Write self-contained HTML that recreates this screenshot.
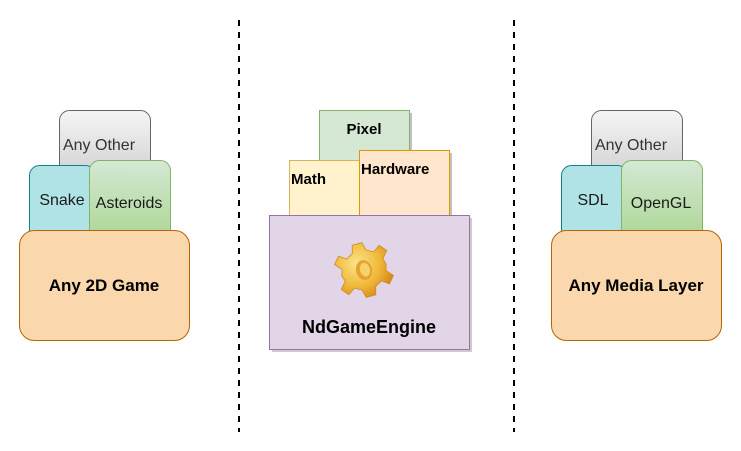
<!DOCTYPE html>
<html><head><meta charset="utf-8"><style>
html,body{margin:0;padding:0;background:#fff;}
svg{display:block;}
text{font-family:"Liberation Sans",Arial,sans-serif;}
</style></head><body>
<svg width="741" height="451" viewBox="0 0 741 451" xmlns="http://www.w3.org/2000/svg">
<defs>
<linearGradient id="gGray" x1="0" y1="0" x2="0" y2="1"><stop offset="0" stop-color="#f5f5f5"/><stop offset="1" stop-color="#cfcfcf"/></linearGradient>
<linearGradient id="gGreen" x1="0" y1="0" x2="0" y2="1"><stop offset="0" stop-color="#d5e8d4"/><stop offset="1" stop-color="#a9d58f"/></linearGradient>
<radialGradient id="gear" cx="0.4" cy="0.35" r="0.7"><stop offset="0" stop-color="#fbe48a"/><stop offset="0.6" stop-color="#f0b93a"/><stop offset="1" stop-color="#d88a1a"/></radialGradient>
</defs>
<line x1="239" y1="20" x2="239" y2="432" stroke="#000" stroke-width="2" stroke-dasharray="6,6"/>
<line x1="514" y1="20" x2="514" y2="432" stroke="#000" stroke-width="2" stroke-dasharray="6,6"/>

<!-- left -->
<rect x="59.5" y="110.5" width="91" height="70" rx="10" fill="url(#gGray)" stroke="#666"/>
<text x="99" y="150" font-size="16" text-anchor="middle" fill="#333">Any Other</text>
<rect x="29.5" y="165.5" width="66" height="80" rx="10" fill="#b0e3e6" stroke="#0e8088"/>
<text x="62" y="205" font-size="16" text-anchor="middle" fill="#1a1a1a">Snake</text>
<rect x="89.5" y="160.5" width="81" height="85" rx="10" fill="url(#gGreen)" stroke="#82b366"/>
<text x="129" y="208" font-size="16" text-anchor="middle" fill="#1a1a1a">Asteroids</text>
<rect x="19.5" y="230.5" width="170" height="110" rx="15" fill="#fad7ac" stroke="#b46504"/>
<text x="104" y="291" font-size="17" font-weight="bold" text-anchor="middle" fill="#000">Any 2D Game</text>

<!-- middle -->
<rect x="322" y="113" width="90" height="50" fill="#999" opacity="0.6"/>
<rect x="319.5" y="110.5" width="90" height="50" fill="#d5e8d4" stroke="#82b366"/>
<text x="364" y="134" font-size="15" font-weight="bold" text-anchor="middle" fill="#000">Pixel</text>
<rect x="289.5" y="160.5" width="71" height="57" fill="#fff2cc" stroke="#d6b656"/>
<text x="291" y="184" font-size="15" font-weight="bold" fill="#000">Math</text>
<rect x="362" y="153" width="90" height="65" fill="#999" opacity="0.6"/>
<rect x="359.5" y="150.5" width="90" height="67" fill="#ffe6cc" stroke="#d79b00"/>
<text x="361" y="174" font-size="15" font-weight="bold" fill="#000">Hardware</text>
<rect x="272" y="218" width="200" height="134" fill="#aaa" opacity="0.6"/>
<rect x="269.5" y="215.5" width="200" height="134" fill="#e1d5e7" stroke="#9673a6"/>
<g transform="translate(364,270) rotate(-15)">
<path d="M-5,-27 L5,-27 L7,-19 L14,-15 L21,-20 L27,-13 L21,-6 L23,0 L21,6 L27,13 L21,20 L14,15 L7,19 L5,27 L-5,27 L-7,19 L-14,15 L-21,20 L-27,13 L-21,6 L-23,0 L-21,-6 L-27,-13 L-21,-20 L-14,-15 L-7,-19 Z" fill="url(#gear)" stroke="#d08a20" stroke-width="0.8"/>
<ellipse cx="0" cy="0" rx="8" ry="10" fill="#e5a230"/>
<ellipse cx="1" cy="0" rx="5" ry="7" fill="#f7d26a"/>
</g>
<text x="369" y="333" font-size="18" font-weight="bold" text-anchor="middle" fill="#000">NdGameEngine</text>

<!-- right -->
<rect x="591.5" y="110.5" width="91" height="70" rx="10" fill="url(#gGray)" stroke="#666"/>
<text x="631" y="150" font-size="16" text-anchor="middle" fill="#333">Any Other</text>
<rect x="561.5" y="165.5" width="66" height="80" rx="10" fill="#b0e3e6" stroke="#0e8088"/>
<text x="593" y="205" font-size="16" text-anchor="middle" fill="#1a1a1a">SDL</text>
<rect x="621.5" y="160.5" width="81" height="85" rx="10" fill="url(#gGreen)" stroke="#82b366"/>
<text x="661" y="208" font-size="16" text-anchor="middle" fill="#1a1a1a">OpenGL</text>
<rect x="551.5" y="230.5" width="170" height="110" rx="15" fill="#fad7ac" stroke="#b46504"/>
<text x="636" y="291" font-size="17" font-weight="bold" text-anchor="middle" fill="#000">Any Media Layer</text>
</svg>
</body></html>
